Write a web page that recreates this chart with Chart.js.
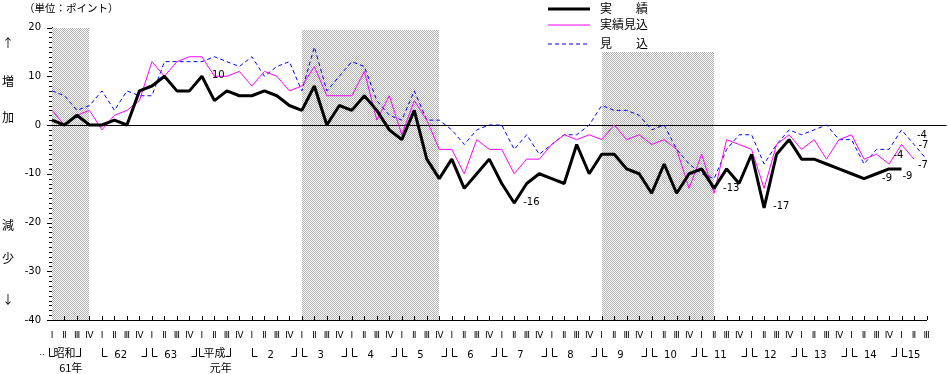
<!DOCTYPE html>
<html>
<head>
<meta charset="utf-8">
<script src="https://cdn.jsdelivr.net/npm/chart.js@4.4.1/dist/chart.umd.min.js"></script>
<style>
  html, body { margin: 0; padding: 0; background: #fff; }
  #wrap { width: 950px; height: 374px; }
</style>
</head>
<body>
<div id="wrap"><canvas id="myChart" width="950" height="374"></canvas></div>
<script>
    // 年（昭和61年～平成15年）と四半期
    const yearLabels = ['61', '62', '63', '元', '2', '3', '4', '5', '6', '7', '8', '9', '10', '11', '12', '13', '14', '15'];
    const quarterNames = ['Ⅰ', 'Ⅱ', 'Ⅲ', 'Ⅳ'];
    const lastYearQuarters = 3;
    const eraLabels = { '61': ['昭和', '61年'], '元': ['平成', '元年'] };

    // 実績
    const jisseki = [
      1, 0, 2, 0, 0, 1, 0, 7, 8, 10, 7, 7, 10, 5, 7, 6, 6, 7, 6, 4,
      3, 8, 0, 4, 3, 6, 3, -1, -3, 3, -7, -11, -7, -13, -10, -7, -12, -16, -12, -10,
      -11, -12, -4, -10, -6, -6, -9, -10, -14, -8, -14, -10, -9, -13, -9, -12, -6, -17, -6, -3,
      -7, -7, -8, -9, -10, -11, -10, -9, -9
    ];
    // 実績見込
    const jissekiMikomi = [
      3, 0, 2, 3, -1, 2, 3, 5, 13, 10, 13, 14, 14, 10, 10, 11, 8, 11, 10, 7,
      8, 12, 6, 6, 6, 11, 1, 6, -2, 5, 1, -5, -5, -10, -3, -5, -5, -10, -7, -7,
      -4, -2, -3, -2, -3, 0, -3, -2, -4, -3, -5, -13, -6, -14, -3, -4, -5, -13, -4, -2,
      -5, -3, -7, -3, -2, -7, -6, -8, -4, -7
    ];
    // 見込
    const mikomi = [
      7, 6, 3, 4, 7, 3, 7, 6, 6, 13, 13, 13, 13, 14, 13, 12, 14, 10, 12, 13,
      7, 16, 7, 10, 13, 12, 5, 2, 1, 7, 1, 1, -1, -4, -1, 0, 0, -5, -2, -6,
      -4, -2, -2, 0, 4, 3, 3, 2, -1, 0, -5, -8, -10, -11, -5, -2, -2, -8, -4, -1,
      -2, -1, 0, -3, -3, -8, -5, -5, -1, -4, -7
    ];
    // 景気後退期（四半期の番号）
    const recessionBands = [[0, 3], [20, 31], [44, 53]];

    const categories = [];
    yearLabels.forEach((y, k) => {
      const n = k === yearLabels.length - 1 ? lastYearQuarters : 4;
      for (let q = 0; q < n; q++) categories.push(y + '/' + quarterNames[q]);
    });

    function makePattern(ctx) {
      const c = document.createElement('canvas');
      c.width = 2; c.height = 2;
      const p = c.getContext('2d');
      p.fillStyle = '#ffffff'; p.fillRect(0, 0, 2, 2);
      p.fillStyle = '#b0b0b0'; p.fillRect(0, 0, 1, 1); p.fillRect(1, 1, 1, 1);
      return ctx.createPattern(c, 'repeat');
    }

    // 年の区切りのかぎ
    function openBracket(ctx, x, y0, y1) {
      x = Math.round(x) + 0.5;
      ctx.beginPath();
      ctx.moveTo(x, y0); ctx.lineTo(x, y1 + 0.5); ctx.lineTo(x + 5, y1 + 0.5);
      ctx.stroke();
    }
    function closeBracket(ctx, x, y0, y1) {
      x = Math.round(x) + 0.5;
      ctx.beginPath();
      ctx.moveTo(x - 5, y1 + 0.5); ctx.lineTo(x, y1 + 0.5); ctx.lineTo(x, y0);
      ctx.stroke();
    }

    const jp = '"Noto Sans CJK JP", sans-serif';
    const num = '"DejaVu Sans", sans-serif';

    const decor = {
      id: 'decor',
      beforeDatasetsDraw(chart, args, opts) {
        const { ctx, chartArea, scales: { x, y } } = chart;
        ctx.save();
        ctx.imageSmoothingEnabled = false;
        ctx.fillStyle = makePattern(ctx);
        recessionBands.forEach(([a, b], k) => {
          const x0 = Math.round(x.getPixelForValue(a));
          const x1 = Math.round(x.getPixelForValue(b));
          const top = Math.round(y.getPixelForValue(opts.bandTops[k]));
          ctx.fillRect(x0, top, x1 - x0, chartArea.bottom - top);
        });
        // 0 の線
        const yz = Math.round(y.getPixelForValue(0)) + 0.5;
        ctx.strokeStyle = '#000';
        ctx.lineWidth = 1;
        ctx.beginPath();
        ctx.moveTo(chartArea.left, yz);
        ctx.lineTo(chartArea.right + opts.zeroExtend, yz);
        ctx.stroke();
        ctx.restore();
      },
      afterDraw(chart, args, opts) {
        const { ctx, chartArea, scales: { x, y } } = chart;
        ctx.save();
        ctx.strokeStyle = '#000';
        ctx.fillStyle = '#000';
        ctx.lineWidth = 1;

        // 目盛り
        ctx.beginPath();
        for (let v = y.min; v <= y.max; v++) {
          const py = Math.round(y.getPixelForValue(v)) + 0.5;
          const len = v % 10 === 0 ? 5 : 3;
          ctx.moveTo(chartArea.left - len, py);
          ctx.lineTo(chartArea.left, py);
        }
        for (let i = 1; i < categories.length; i++) {
          const px = Math.round(x.getPixelForValue(i)) + 0.5;
          ctx.moveTo(px, chartArea.bottom);
          ctx.lineTo(px, chartArea.bottom - 4);
        }
        ctx.stroke();

        // 年の行
        ctx.textBaseline = 'middle';
        const rowY = opts.yearRowY;
        const b0 = rowY - 5, b1 = rowY + 3;
        let idx = 0;
        yearLabels.forEach((yl, k) => {
          const n = k === yearLabels.length - 1 ? lastYearQuarters : 4;
          const first = idx, last = idx + n - 1;
          if (eraLabels[yl]) {
            const cx = x.getPixelForValue(first + 1);
            ctx.font = '11px ' + jp;
            ctx.textAlign = 'center';
            ctx.fillText(eraLabels[yl][0], cx, rowY);
            const w = ctx.measureText(eraLabels[yl][0]).width;
            ctx.fillText(eraLabels[yl][1], x.getPixelForValue(first + 1.5), opts.eraRowY);
            openBracket(ctx, cx - w / 2 - 4, b0, b1);
            closeBracket(ctx, cx + w / 2 + 5, b0, b1);
          } else {
            ctx.font = '10px ' + num;
            ctx.textAlign = 'center';
            ctx.fillText(yl, x.getPixelForValue((first + last) / 2), rowY + 2);
            openBracket(ctx, x.getPixelForValue(first), b0, b1);
            if (n === 4) closeBracket(ctx, x.getPixelForValue(last + 0.55), b0, b1);
          }
          idx += n;
        });
        ctx.font = '8px ' + num;
        ctx.textAlign = 'center';
        ctx.fillText('..', chartArea.left - 10, rowY);

        // 数値ラベル
        ctx.font = '10px ' + num;
        opts.valueLabels.forEach(l => {
          const v = chart.data.datasets[l.ds].data[l.i];
          ctx.textAlign = l.align || 'left';
          ctx.fillText(String(v), x.getPixelForValue(l.i) + l.dx, y.getPixelForValue(v) + l.dy);
        });

        // 凡例
        chart.data.datasets.forEach((ds, k) => {
          const ly = opts.legendY[k];
          ctx.save();
          ctx.strokeStyle = ds.borderColor;
          ctx.lineWidth = ds.borderWidth;
          ctx.setLineDash(ds.borderDash || []);
          ctx.beginPath();
          ctx.moveTo(opts.legendX, ly);
          ctx.lineTo(opts.legendX + 42, ly);
          ctx.stroke();
          ctx.restore();
          ctx.font = '12px ' + jp;
          ctx.textAlign = 'left';
          ctx.fillText(ds.label, opts.legendX + 52, ly - 1);
        });

        // 増加・減少
        ctx.font = '12px ' + jp;
        ctx.textAlign = 'center';
        opts.sideText.forEach(([t, py]) => ctx.fillText(t, 8, py));

        // 単位
        ctx.font = '10.5px ' + jp;
        ctx.textAlign = 'left';
        ctx.fillText('（単位：ポイント）', 24, 8);
        ctx.restore();
      }
    };

    const config = {
      type: 'line',
      data: {
        labels: categories,
        datasets: [
          { label: '実　　績', data: jisseki, borderColor: '#000000', borderWidth: 3, borderJoinStyle: 'bevel' },
          { label: '実績見込', data: jissekiMikomi, borderColor: '#ff00ff', borderWidth: 1 },
          { label: '見　　込', data: mikomi, borderColor: '#0000ff', borderWidth: 1, borderDash: [4, 3] }
        ]
      },
      options: {
        responsive: false,
        animation: false,
        devicePixelRatio: 1,
        layout: { padding: { top: 27.5, right: 23.5, left: 0, bottom: 0 } },
        elements: { point: { radius: 0 }, line: { tension: 0 } },
        scales: {
          x: {
            offset: false,
            grid: { display: false, drawTicks: false },
            border: { display: true, color: '#000', width: 1 },
            ticks: {
              autoSkip: false, maxRotation: 0, minRotation: 0, padding: 10,
              color: '#000', font: { family: num, size: 9 },
              callback: (v, i) => categories[i].split('/')[1]
            },
            afterFit: s => { s.height = 54; }
          },
          y: {
            min: -40, max: 20,
            grid: { display: false, drawTicks: false },
            border: { display: true, color: '#000', width: 1 },
            ticks: { stepSize: 10, padding: 11, color: '#000', font: { family: num, size: 10 } },
            afterFit: s => { s.width = 52; }
          }
        },
        plugins: {
          legend: { display: false },
          tooltip: { enabled: false },
          decor: {
            bandTops: [20, 19.5, 15],
            zeroExtend: 20,
            yearRowY: 353,
            eraRowY: 368,
            legendX: 548,
            legendY: [9, 25, 44],
            sideText: [['↑', 43], ['増', 81], ['加', 117], ['減', 225], ['少', 258], ['↓', 299]],
            valueLabels: [
              { ds: 0, i: 12, dx: 10, dy: -1 },
              { ds: 0, i: 37, dx: 9, dy: -1 },
              { ds: 0, i: 53, dx: 9, dy: 0 },
              { ds: 0, i: 57, dx: 9, dy: -1 },
              { ds: 0, i: 67, dx: -2, dy: 10, align: 'center' },
              { ds: 0, i: 68, dx: 1, dy: 8 },
              { ds: 1, i: 68, dx: -8, dy: 11 },
              { ds: 1, i: 69, dx: 4, dy: 6 },
              { ds: 2, i: 69, dx: 3, dy: -9 },
              { ds: 2, i: 70, dx: -8, dy: -14 }
            ]
          }
        }
      },
      plugins: [decor]
    };

    const myChart = new Chart(document.getElementById('myChart'), config);
</script>
</body>
</html>
